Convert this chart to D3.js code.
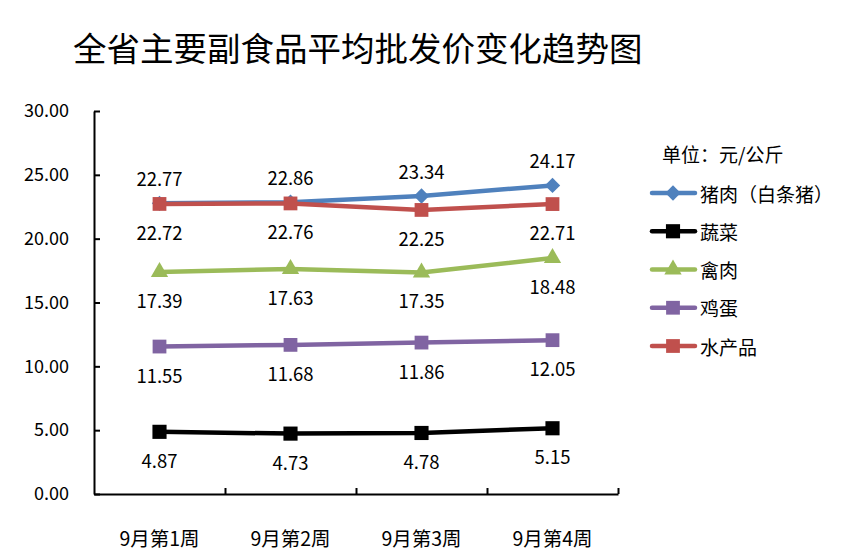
<!DOCTYPE html>
<html>
<head>
<meta charset="utf-8">
<script src="https://cdn.jsdelivr.net/npm/d3@7"></script>
<style>
  body { margin: 0; background: #fff; }
  text { font-family: "Noto Sans CJK SC", "Noto Sans", sans-serif; fill: #000; }
</style>
</head>
<body>
<div id="chart"></div>
<script>
var svgWidth = 857;
var svgHeight = 555;

// data
var weeks = ["9月第1周", "9月第2周", "9月第3周", "9月第4周"];
var pork = [22.77, 22.86, 23.34, 24.17];
var vegetables = [4.87, 4.73, 4.78, 5.15];
var poultry = [17.39, 17.63, 17.35, 18.48];
var eggs = [11.55, 11.68, 11.86, 12.05];
var aquatic = [22.72, 22.76, 22.25, 22.71];
var yTicks = [0, 5, 10, 15, 20, 25, 30];

var series = [
  { name: "猪肉（白条猪）", values: pork, color: "#4F81BD", symbol: d3.symbolDiamond2, size: 150, labelPos: "above" },
  { name: "蔬菜", values: vegetables, color: "#000000", symbol: d3.symbolSquare, size: 200, labelPos: "below" },
  { name: "禽肉", values: poultry, color: "#9BBB59", symbol: d3.symbolTriangle, size: 130, labelPos: "below" },
  { name: "鸡蛋", values: eggs, color: "#8064A2", symbol: d3.symbolSquare, size: 190, labelPos: "below" },
  { name: "水产品", values: aquatic, color: "#C0504D", symbol: d3.symbolSquare, size: 190, labelPos: "below" }
];

var plot = { left: 94, right: 618, top: 111, bottom: 494 };

var svg = d3.select("#chart").append("svg")
  .attr("width", svgWidth)
  .attr("height", svgHeight);

svg.append("text")
  .attr("x", 73)
  .attr("y", 61)
  .attr("font-size", "33.5px")
  .text("全省主要副食品平均批发价变化趋势图");

var xBand = d3.scaleBand()
  .domain(weeks)
  .range([plot.left, plot.right]);

var xEdge = d3.scaleLinear()
  .domain([0, weeks.length])
  .range([plot.left, plot.right]);

var y = d3.scaleLinear()
  .domain([0, 30])
  .range([plot.bottom, plot.top]);

var xc = function(w) { return xBand(w) + xBand.bandwidth() / 2; };

// y axis, ticks pointing inward
var yAxisG = svg.append("g")
  .attr("transform", `translate(${plot.left}, 0)`)
  .call(d3.axisLeft(y)
    .tickValues(yTicks)
    .tickSize(-6)
    .tickSizeOuter(0)
    .tickPadding(25)
    .tickFormat(d3.format(".2f")));
yAxisG.select(".domain").attr("stroke", "#000").attr("stroke-width", 2);
yAxisG.selectAll(".tick line").attr("stroke", "#000").attr("stroke-width", 2);
yAxisG.selectAll(".tick text")
  .attr("font-size", "18px")
  .style("font-family", "'Noto Sans CJK SC', sans-serif");

// x axis, ticks at category boundaries pointing up
var xAxisG = svg.append("g")
  .attr("transform", `translate(0, ${plot.bottom})`)
  .call(d3.axisBottom(xEdge)
    .ticks(weeks.length)
    .tickSize(-6)
    .tickSizeOuter(0)
    .tickFormat(""));
xAxisG.select(".domain").attr("stroke", "#000").attr("stroke-width", 2);
xAxisG.selectAll(".tick line").attr("stroke", "#000").attr("stroke-width", 2);
xAxisG.selectAll(".tick").filter(function(d) { return d === 0; }).remove();

svg.append("g").selectAll("text")
  .data(weeks)
  .enter()
  .append("text")
  .attr("x", d => xc(d))
  .attr("y", 537)
  .attr("text-anchor", "middle")
  .attr("dominant-baseline", "central")
  .attr("font-size", "19.5px")
  .text(d => d);

var line = d3.line()
  .x((d, i) => xc(weeks[i]))
  .y(d => y(d));

// draw the blue series first so the red one sits on top, like the original
series.forEach(function(s) {
  var g = svg.append("g");
  g.append("path")
    .datum(s.values)
    .attr("d", line)
    .attr("fill", "none")
    .attr("stroke", s.color)
    .attr("stroke-width", 4.5)
    .attr("stroke-linejoin", "round");

  g.selectAll("path.marker")
    .data(s.values)
    .enter()
    .append("path")
    .attr("class", "marker")
    .attr("d", d3.symbol().type(s.symbol).size(s.size))
    .attr("transform", (d, i) => `translate(${xc(weeks[i])}, ${y(d)})`)
    .attr("fill", s.color);

  g.selectAll("text")
    .data(s.values)
    .enter()
    .append("text")
    .attr("x", (d, i) => xc(weeks[i]))
    .attr("y", d => y(d) + (s.labelPos === "above" ? -25 : 28))
    .attr("text-anchor", "middle")
    .attr("dominant-baseline", "central")
    .attr("font-size", "18.5px")
    .text(d => d.toFixed(2));
});

// legend
var legend = svg.append("g");
legend.append("text")
  .attr("x", 662)
  .attr("y", 153)
  .attr("dominant-baseline", "central")
  .attr("font-size", "19px")
  .text("单位：元/公斤");

var legendY = d3.scalePoint()
  .domain(series.map(s => s.name))
  .range([193, 346]);

series.forEach(function(s) {
  var ly = legendY(s.name);
  legend.append("line")
    .attr("x1", 652)
    .attr("x2", 695)
    .attr("y1", ly)
    .attr("y2", ly)
    .attr("stroke", s.color)
    .attr("stroke-width", 4.5)
    .attr("stroke-linecap", "round");
  legend.append("path")
    .attr("d", d3.symbol().type(s.symbol).size(s.size))
    .attr("transform", `translate(673, ${ly})`)
    .attr("fill", s.color);
  legend.append("text")
    .attr("x", 700)
    .attr("y", ly)
    .attr("dominant-baseline", "central")
    .attr("font-size", "19px")
    .text(s.name);
});
</script>
</body>
</html>
